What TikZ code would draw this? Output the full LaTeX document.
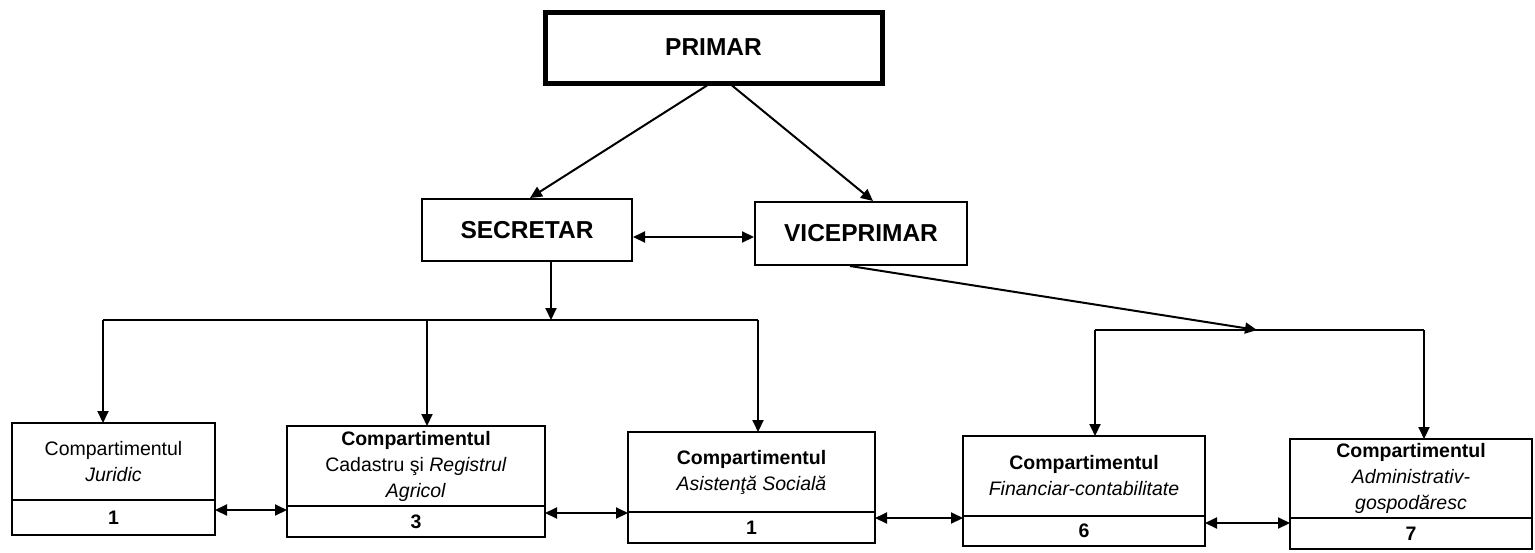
\documentclass[tikz,border=0pt]{standalone}
\usepackage{fontspec}
\setmainfont{Liberation Sans}
\usetikzlibrary{positioning}
\usetikzlibrary{arrows.meta}

\begin{document}
\begin{tikzpicture}[x=0.5pt, y=-0.5pt, line width=1pt, >={Triangle[length=6pt,width=5.5pt]},
headbox/.style={draw, inner sep=0pt, font=\fontsize{12.25}{14}\selectfont\bfseries},
compbox/.style={draw, inner sep=0pt, outer sep=0pt, align=center, minimum width=#1, font=\fontsize{9.75}{13}\selectfont},
nrbox/.style={draw, inner sep=0pt, outer sep=0pt, minimum width=#1, font=\fontsize{9.75}{13}\selectfont\bfseries}]

\fill[white] (0,0) rectangle (1535,552);

% conducere
\node[headbox, line width=2.5pt, minimum width=168.5pt, minimum height=35.5pt] (primar) at (713.5,47.5) {PRIMAR};
\node[headbox, minimum width=105pt, minimum height=31pt] (secr) at (527,230) {SECRETAR};
\node[headbox, minimum width=106pt, minimum height=31.5pt] (vice) at (861,233.5) {VICEPRIMAR};

\draw[->] ([xshift=-3.25pt]primar.south) -- ([xshift=1.5pt]secr.north);
\draw[->] ([xshift=9.25pt]primar.south) -- ([xshift=6pt]vice.north);
\draw[<->] ([yshift=-3.5pt]secr.east) -- ([yshift=-3.5pt]secr.east -| vice.west);

% compartimente
\node[compbox=101.5pt, minimum height=38.5pt] (jur) at (113.5,461.5) {Compartimentul\\\textit{Juridic}};
\node[nrbox=101.5pt, minimum height=17.5pt, below=0pt of jur] (jurn) {1};

\node[compbox=129pt, minimum height=40pt] (cad) at (416,466) {\textbf{Compartimentul}\\Cadastru şi \textit{Registrul}\\\textit{Agricol}};
\node[nrbox=129pt, minimum height=15.5pt, below=0pt of cad] (cadn) {3};

\node[compbox=123.5pt, minimum height=40pt] (asis) at (751.5,472) {\textbf{Compartimentul}\\\textit{Asistenţă Socială}};
\node[nrbox=123.5pt, minimum height=15.5pt, below=0pt of asis] (asisn) {1};

\node[compbox=121pt, minimum height=40pt] (fin) at (1084,476) {\textbf{Compartimentul}\\\textit{Financiar-contabilitate}};
\node[nrbox=121pt, minimum height=15pt, below=0pt of fin] (finn) {6};

\node[compbox=121pt, minimum height=39.5pt] (adm) at (1411,478.5) {\textbf{Compartimentul}\\\textit{Administrativ-}\\\textit{gospodăresc}};
\node[nrbox=121pt, minimum height=15.5pt, below=0pt of adm] (admn) {7};

% ramura secretar
\coordinate (bl) at (551,320);
\coordinate (dj) at (103,320);
\coordinate (dc) at (427,320);
\coordinate (da) at (758,320);
\draw[->] ([xshift=12pt]secr.south) -- (bl);
\draw (dj) -- (da);
\draw[->] (dj) -- (dj |- jur.north);
\draw[->] (dc) -- (dc |- cad.north);
\draw[->] (da) -- (da |- asis.north);

% ramura viceprimar
\coordinate (br) at (1257,330);
\coordinate (df) at (1095,330);
\coordinate (dd) at (1424,330);
\draw[->] ([xshift=-5.5pt]vice.south) -- (br);
\draw (df) -- (dd);
\draw[->] (df) -- (df |- fin.north);
\draw[->] (dd) -- (dd |- adm.north);

% legaturi intre compartimente
\draw[<->] (jur.east |- 0,510) -- (cad.west |- 0,510);
\draw[<->] (cad.east |- 0,513) -- (asis.west |- 0,513);
\draw[<->] (asis.east |- 0,518) -- (fin.west |- 0,518);
\draw[<->] (fin.east |- 0,523) -- (adm.west |- 0,523);

\end{tikzpicture}
\end{document}
